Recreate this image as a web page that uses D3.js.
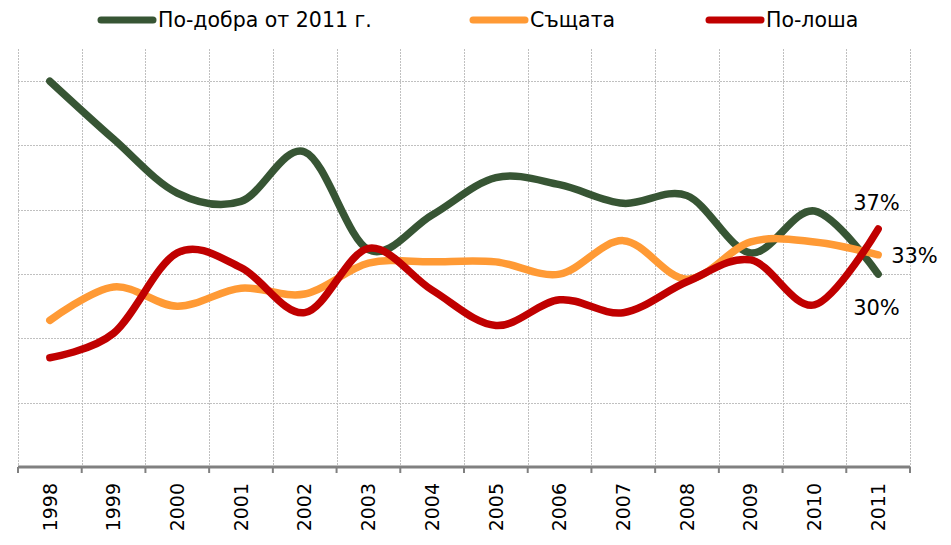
<!DOCTYPE html>
<html>
<head>
  <meta charset="utf-8">
  <title></title>
  <style type="text/css">
    body {margin: 0; background: #fff;}
    text {font-family: "DejaVu Sans", Verdana, sans-serif; fill: #000;}
    .grid {stroke: #c0c0c0; stroke-width: 1px; stroke-dasharray: 2,1;}
    .seriesLine {fill: none; stroke-width: 7.5px; stroke-linecap: round; stroke-linejoin: round;}
  </style>
</head>
<body>
<script src="https://d3js.org/d3.v7.min.js"></script>
<div id="my_dataviz"></div>
<script>
// data (percent)
var years = ["1998", "1999", "2000", "2001", "2002", "2003", "2004",
             "2005", "2006", "2007", "2008", "2009", "2010", "2011"];
var seriesNames = ["По-добра от 2011 г.", "Същата", "По-лоша"];
var better = [60, 51, 42.6, 41.3, 49, 33.8, 39.2, 45, 43.9, 41, 42.2, 33.3, 39.8, 30];
var same   = [22.8, 28, 25, 27.8, 26.9, 31.7, 31.9, 31.9, 30, 35.2, 29.2, 35, 35, 33];
var worse  = [17, 20.8, 33.3, 31, 24, 34, 27.5, 22, 26, 24, 28.8, 32.2, 25.2, 37];
var colors = ["#375534", "#ff9a35", "#c00000"];
var yTicks = [0, 10, 20, 30, 40, 50, 60];

var width = 951, height = 545;
var plot = {left: 18, right: 910, top: 49, bottom: 467};

var svg = d3.select("#my_dataviz")
  .append("svg")
    .attr("width", width)
    .attr("height", height);

var x = d3.scaleBand()
    .domain(years)
    .range([plot.left, plot.right]);
var y = d3.scaleLinear()
    .domain([0, 65])
    .range([plot.bottom, plot.top]);

// horizontal gridlines
svg.append("g")
  .selectAll("line")
  .data(yTicks.filter(function(d) { return d > 0; }))
  .enter()
  .append("line")
    .attr("class", "grid")
    .attr("x1", plot.left)
    .attr("x2", plot.right)
    .attr("y1", function(d) { return Math.round(y(d)) + 0.5; })
    .attr("y2", function(d) { return Math.round(y(d)) + 0.5; });

// vertical gridlines at category boundaries
var bounds = years.map(function(d) { return x(d); }).concat([plot.right]);
svg.append("g")
  .selectAll("line")
  .data(bounds)
  .enter()
  .append("line")
    .attr("class", "grid")
    .attr("x1", function(d) { return Math.round(d) + 0.5; })
    .attr("x2", function(d) { return Math.round(d) + 0.5; })
    .attr("y1", plot.top)
    .attr("y2", plot.bottom);

// x axis
var xAxis = svg.append("g")
    .attr("transform", "translate(0," + plot.bottom + ")")
    .call(d3.axisBottom(x).tickSize(0).tickPadding(0));
xAxis.select(".domain").remove();
xAxis.append("line")
    .attr("x1", plot.left)
    .attr("x2", plot.right)
    .attr("stroke", "#808080")
    .attr("stroke-width", 3);
xAxis.selectAll(".tickMark")
  .data(bounds)
  .enter()
  .append("line")
    .attr("x1", function(d) { return d; })
    .attr("x2", function(d) { return d; })
    .attr("y1", 0)
    .attr("y2", 6)
    .attr("stroke", "#808080")
    .attr("stroke-width", 2);
xAxis.selectAll(".tick text")
    .attr("font-family", "DejaVu Sans, Verdana, sans-serif")
    .attr("font-size", "19px")
    .attr("fill", "#000")
    .attr("text-anchor", "end")
    .attr("dy", "0.35em")
    .attr("transform", "translate(0,16) rotate(-90)");

// lines
var line = d3.line()
    .x(function(d, i) { return x(years[i]) + x.bandwidth() / 2; })
    .y(function(d) { return y(d); })
    .curve(d3.curveCardinal.tension(0));

[better, same, worse].forEach(function(values, i) {
  svg.append("path")
    .datum(values)
    .attr("class", "seriesLine")
    .attr("stroke", colors[i])
    .attr("d", line);
});

// end labels
var last = years[years.length - 1];
var endValues = [worse[worse.length - 1], same[same.length - 1], better[better.length - 1]];
var endOffsets = [{dx: -25, dy: -19}, {dx: 13, dy: 8}, {dx: -25, dy: 41}];
svg.append("g")
  .selectAll("text")
  .data(endValues)
  .enter()
  .append("text")
    .attr("x", function(d, i) { return x(last) + x.bandwidth() / 2 + endOffsets[i].dx; })
    .attr("y", function(d, i) { return y(d) + endOffsets[i].dy; })
    .attr("font-size", "21px")
    .text(function(d) { return Math.round(d) + "%"; });

// legend
var legendX = [98, 470, 706];
var legend = svg.append("g")
  .selectAll("g")
  .data(seriesNames)
  .enter()
  .append("g")
    .attr("transform", function(d, i) { return "translate(" + legendX[i] + ",20)"; });
legend.append("line")
    .attr("x1", 3)
    .attr("x2", 55)
    .attr("stroke", function(d, i) { return colors[i]; })
    .attr("stroke-width", 7)
    .attr("stroke-linecap", "round");
legend.append("text")
    .attr("x", 60)
    .attr("dy", "0.35em")
    .attr("font-size", "20.5px")
    .text(function(d) { return d; });
</script>
</body>
</html>
